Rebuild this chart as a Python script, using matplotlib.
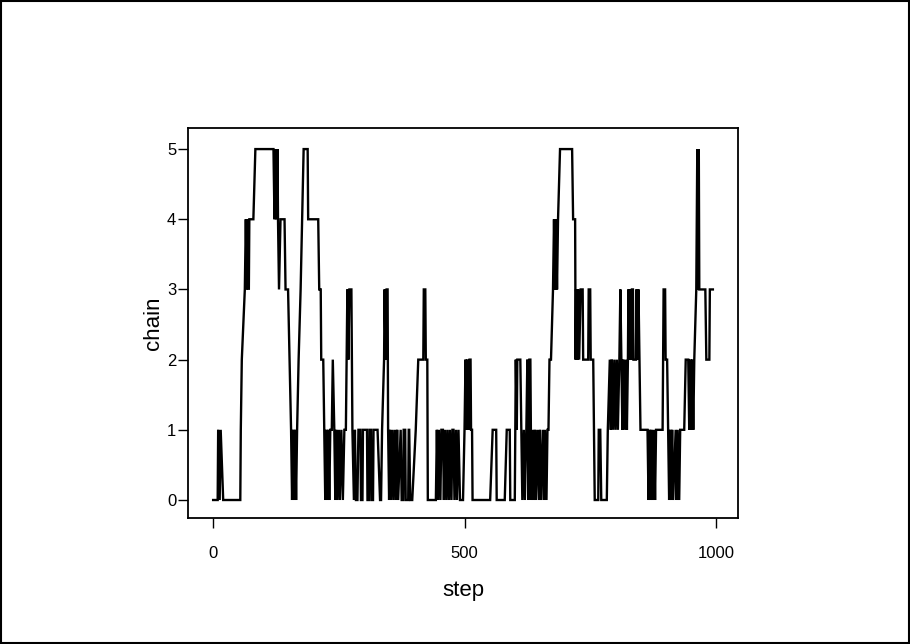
import matplotlib.pyplot as plt
from matplotlib.patches import Rectangle

# chain trace (step, state)
step = [0, 9, 10, 13, 15, 20, 54, 55, 57, 63, 65, 67, 69, 71, 72, 80, 84,
        120, 122, 124, 126, 128, 129, 131, 134, 142, 144, 149, 152, 155, 157,
        159, 161, 163, 165, 167, 170, 174, 177, 180, 188, 189, 209, 211, 214,
        215, 219, 221, 223,
        225, 227, 229, 231, 233, 236, 238, 241, 243, 245, 247, 250, 252, 255,
        258, 261, 264, 267, 269, 271, 275, 277, 280, 282, 284, 287, 289, 293,
        294, 297, 298, 306, 307, 310, 311, 314, 315, 318, 319, 327, 332, 334,
        336, 340, 341, 343, 345, 347, 348, 350, 352, 354, 357, 359, 362, 364,
        366, 368, 373, 375, 378, 379, 382, 383, 388, 389, 390, 392, 396, 403,
        408, 418, 419, 422, 423, 426, 427, 443, 445, 447, 449, 452, 454, 457,
        459, 461, 464, 466, 469, 471, 474, 476, 478, 480, 483, 485, 488, 491,
        497, 500, 502, 504, 506, 508, 510, 512, 513, 515, 516, 551, 556, 563,
        564, 580, 584, 590, 591, 600, 601, 602, 604, 605, 611, 613, 615, 618,
        620, 623, 625, 627, 629, 631, 633, 636, 638, 640, 642, 645, 648, 650,
        652, 656, 658, 660, 663, 665, 667, 669, 672, 676, 678, 680, 682, 684,
        686, 690, 714, 716, 720, 721, 722, 725, 726, 728, 731, 735, 736, 746,
        747, 750, 751, 756, 759, 766, 767, 770, 772, 783, 785, 789, 791, 793,
        795, 798, 800, 803, 805, 808, 810, 812, 814, 816, 818, 821, 823, 825,
        826, 828, 830, 832, 833, 835, 836, 841, 842, 844, 846, 848, 850, 864,
        866, 868, 870, 872, 874, 877, 879, 881, 894, 896, 899, 900, 903, 905,
        907, 909, 911, 913, 915, 920, 922, 924, 927, 929, 937, 940, 945, 947,
        949, 951, 953, 955, 957, 961, 963, 965, 966, 967, 979, 981, 987, 988,
        994]
chain = [0, 0, 1, 0, 1, 0, 0, 1, 2, 3, 4, 3, 4, 3, 4, 4, 5,
         5, 4, 5, 4, 5, 4, 3, 4, 4, 3, 3, 2, 1, 0,
         1, 0, 1, 0, 1, 2, 3, 4, 5, 5, 4, 4, 3, 3,
         2, 2, 1, 0,
         1, 0, 1, 0, 1, 1, 2, 1, 0, 1, 0, 1, 0, 1,
         0, 1, 1, 3, 2, 3, 3, 1, 0, 1, 0, 0, 1, 1,
         0, 0, 1, 1, 0, 0, 1, 1, 0, 0, 1, 1, 0, 0,
         1, 2, 3, 2, 3, 3, 1, 0, 1, 0, 1, 0, 1, 0,
         1, 0, 1, 0, 0, 1, 1, 0, 0, 1, 1, 0, 0, 1,
         2, 2, 3, 3, 2, 2, 0, 0, 1, 0, 1, 0, 1, 1,
         0, 1, 0, 1, 0, 1, 0, 1, 1, 0, 1, 0, 1, 0,
         0, 1, 2, 1, 2, 1, 2, 2, 1, 1, 0, 0, 1, 1,
         0, 0, 1, 1, 0, 0, 1, 2, 1, 2, 2, 1, 0, 1,
         0, 1, 2, 0, 2, 2, 0, 1, 0, 1, 0, 1, 0, 1,
         0, 1, 0, 1, 0, 1, 1, 2, 2, 3, 4, 3, 4, 3,
         4, 5, 5, 4, 4, 2, 3, 2, 3, 2, 3, 3, 2, 2,
         3, 3, 2, 2, 0, 0, 1, 1, 0, 0, 1, 2, 1, 2,
         1, 2, 1, 2, 1, 2, 3, 2, 1, 2, 1, 2, 1, 2,
         3, 2, 3, 2, 3, 3, 2, 2, 3, 2, 3, 2, 1, 1,
         0, 1, 0, 1, 0, 1, 0, 1, 1, 3, 3, 2, 2, 1,
         0, 1, 0, 1, 0, 1, 0, 1, 0, 1, 1, 2, 2, 1,
         2, 1, 2, 1, 2, 3, 5, 3, 5, 3, 3, 2, 2, 3,
         3]

xt = [0, 500, 1000]
yt = [0, 1, 2, 3, 4, 5]

plt.rcParams['font.family'] = ['Liberation Sans', 'DejaVu Sans']

fig = plt.figure(figsize=(9.1, 6.44), dpi=100)
ax = fig.add_axes([0.2066, 0.1957, 0.6044, 0.6055])
ax.plot(step, chain, color='black', lw=1.7, solid_joinstyle='miter')

ax.set_xlim(-50, 1044)
ax.set_ylim(-0.256, 5.30)
ax.set_xticks(xt)
ax.set_yticks(yt)
ax.tick_params(axis='both', direction='out', length=7, width=1, labelsize=12)
ax.tick_params(axis='x', pad=13)
ax.tick_params(axis='y', pad=1.5)
for s in ax.spines.values():
    s.set_linewidth(1.3)

ax.set_xlabel('step', fontsize=16, labelpad=14)
ax.set_ylabel('chain', fontsize=16, labelpad=2)

fig.patches.append(Rectangle((0.001, 0.001), 0.998, 0.997, transform=fig.transFigure,
                             fill=False, edgecolor='black', lw=1.5))

fig.savefig('out.png', dpi=100)
